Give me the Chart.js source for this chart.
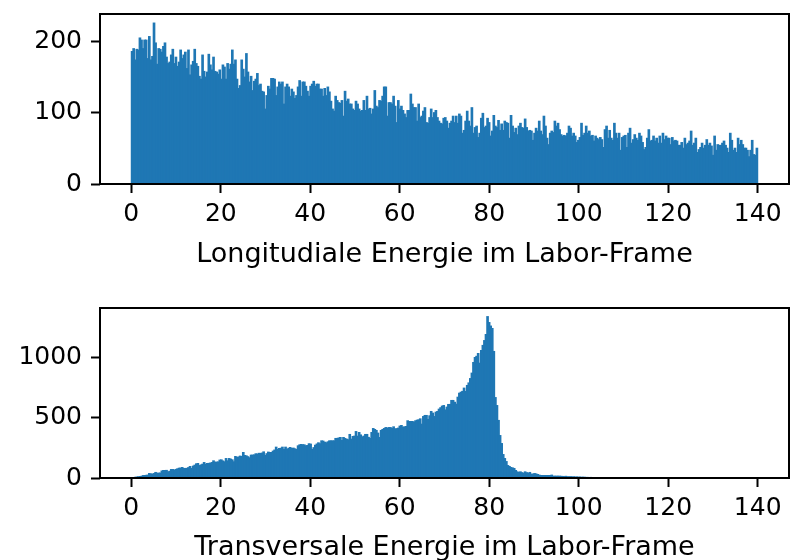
<!DOCTYPE html>
<html>
<head>
<meta charset="utf-8">
<script src="https://cdn.jsdelivr.net/npm/chart.js@4.4.0/dist/chart.umd.min.js"></script>
<style>
  body { margin: 0; background: #fff; overflow: hidden; }
  .wrap { position: absolute; left: 0; width: 790px; }
</style>
</head>
<body>
<div class="wrap" style="top:0;height:280px"><canvas id="longChart" width="790" height="280"></canvas></div>
<div class="wrap" style="top:280px;height:284px"><canvas id="transChart" width="790" height="284"></canvas></div>
<script>
// Histogram: 400 bins between binMin and binMax
var binMin = 0, binMax = 140;

// counts per bin, longitudinal energy
var longValues = [
  187,191,175,190,189,206,203,191,203,203,177,208,175,180,227,199,169,191,190,186,
  194,199,179,170,172,182,190,170,179,166,172,189,177,182,186,163,189,154,168,173,
  190,170,166,152,148,182,159,151,158,183,168,161,179,159,158,155,161,148,168,165,
  148,170,162,169,189,169,175,148,135,139,175,162,151,184,158,144,152,132,145,148,
  156,139,141,131,130,106,125,138,134,149,149,148,125,137,144,141,144,113,137,141,
  137,124,134,130,121,125,137,146,124,144,144,138,131,124,138,141,145,138,141,141,
  134,134,124,135,125,137,130,117,106,103,124,118,115,114,118,96,131,117,120,113,
  113,106,104,117,113,106,103,104,118,104,124,106,107,99,106,132,110,108,118,117,
  124,137,137,96,115,115,113,124,110,87,118,106,110,104,99,94,104,104,127,113,
  108,108,89,113,94,96,103,108,87,86,94,106,94,101,104,94,89,86,85,93,
  94,89,79,86,89,96,87,96,86,99,96,72,76,89,103,89,82,108,72,80,
  82,66,72,93,100,80,82,93,87,68,75,97,82,80,90,76,85,76,89,87,
  86,65,97,82,73,79,70,82,86,80,79,92,80,75,76,75,62,72,79,75,
  89,75,70,96,82,65,56,72,75,73,89,82,86,77,70,68,69,68,72,82,
  79,68,72,68,59,62,66,86,69,72,82,72,75,68,69,61,68,65,63,66,
  63,52,77,82,65,76,65,62,86,72,65,72,48,66,68,69,52,72,79,58,
  63,70,65,62,72,68,59,49,52,65,77,61,62,68,61,65,58,68,58,72,
  63,68,65,65,56,66,61,62,61,55,55,59,51,65,56,58,61,75,55,58,
  65,45,49,52,58,51,55,63,55,58,54,41,68,48,56,55,55,58,61,55,
  51,45,72,62,48,51,45,65,56,62,56,51,51,48,39,48,62,42,41,51
];

// counts per bin, transversal energy
var transValues = [
  5,6,10,12,14,16,18,24,25,26,28,41,38,36,41,50,44,44,45,62,
  66,66,67,55,60,74,74,69,75,80,85,86,91,83,83,84,90,99,83,102,
  110,121,124,107,112,118,132,118,124,125,127,132,146,135,135,137,152,154,145,138,
  165,146,165,160,154,138,182,174,178,185,182,215,190,187,180,171,193,193,195,204,
  201,208,207,210,220,190,205,218,215,215,226,235,259,240,248,250,259,240,259,242,
  250,256,248,251,245,240,270,278,281,279,278,270,273,287,284,240,255,275,285,295,
  287,311,309,300,295,303,311,311,311,311,331,331,335,339,314,339,331,325,320,364,
  325,347,350,388,350,380,360,344,350,364,364,340,331,380,413,405,397,375,339,397,
  405,413,421,416,421,421,413,427,410,412,416,433,438,424,427,430,477,471,471,471,
  466,477,482,485,493,449,512,521,521,488,518,554,540,512,548,554,573,585,598,603,
  567,590,612,612,645,645,630,614,672,705,713,720,747,719,769,790,826,871,959,1000,
  1010,1033,953,1058,1100,1140,1190,1338,1289,1260,1240,1050,669,603,480,355,289,198,165,140,
  107,99,91,87,83,66,55,50,55,48,44,55,48,44,50,36,36,41,38,33,
  28,25,25,25,25,25,25,25,28,19,19,19,19,19,18,17,16,18,15,14,
  15,13,14,12,13,11,12,10,11,10,9,9,8,9,7,8,7,6,7,6,
  5,6,5,5,4,5,4,4,3,4,3,3,3,2,3,2,2,3,2,1,
  2,2,1,1,2,1,1,1,0,1,1,1,0,1,0,1,0,0,1,0,
  0,1,0,0,0,1,0,0,0,0,1,0,0,0,0,0,0,1,0,0,
  0,0,0,0,0,0,1,0,0,0,0,0,0,0,0,0,0,1,0,0,
  0,0,0,0,0,0,0,0,0,0,0,0,0,0,0,0,0,0,0,1
];

var xTicks = [0, 20, 40, 60, 80, 100, 120, 140];
var longYTicks = [0, 100, 200];
var transYTicks = [0, 500, 1000];

var barColor = '#1f77b4';
var fontFamily = 'DejaVu Sans';

function toPoints(values) {
  var w = (binMax - binMin) / values.length;
  return values.map(function (v, i) { return { x: binMin + (i + 0.5) * w, y: v }; });
}

// matplotlib-style box around the plot area
var framePlugin = {
  id: 'frame',
  afterDraw: function (chart) {
    var a = chart.chartArea, ctx = chart.ctx;
    ctx.save();
    ctx.strokeStyle = '#000';
    ctx.lineWidth = 2;
    ctx.strokeRect(a.left, a.top, a.right - a.left, a.bottom - a.top);
    ctx.restore();
  }
};

function makeChart(id, values, yTicks, yMax, title, padTop, axisHeight, titlePad) {
  var ctx = document.getElementById(id).getContext('2d');
  return new Chart(ctx, {
    type: 'bar',
    data: {
      datasets: [{
        data: toPoints(values),
        backgroundColor: barColor,
        borderWidth: 0,
        barPercentage: 1.7,
        categoryPercentage: 1,
        grouped: false
      }]
    },
    options: {
      responsive: false,
      animation: false,
      devicePixelRatio: 1,
      layout: { padding: { top: padTop, right: 1, left: 0, bottom: 0 } },
      plugins: { legend: { display: false }, tooltip: { enabled: false } },
      scales: {
        x: {
          type: 'linear',
          min: -7,
          max: 147,
          offset: false,
          afterBuildTicks: function (s) { s.ticks = xTicks.map(function (v) { return { value: v }; }); },
          afterFit: function (s) { s.height = axisHeight; s.paddingLeft = 0; s.paddingRight = 0; },
          grid: { display: true, drawOnChartArea: false, drawTicks: true, tickLength: 9, tickWidth: 2, tickColor: '#000', offset: false },
          border: { display: false },
          ticks: { color: '#000', font: { family: fontFamily, size: 25 }, padding: 6, maxRotation: 0, autoSkip: false },
          title: { display: true, text: title, color: '#000', font: { family: fontFamily, size: 27 }, padding: { top: 0, bottom: titlePad } }
        },
        y: {
          min: 0,
          max: yMax,
          afterBuildTicks: function (s) { s.ticks = yTicks.map(function (v) { return { value: v }; }); },
          afterFit: function (s) { s.width = 100; s.paddingTop = 0; s.paddingBottom = 0; },
          grid: { display: true, drawOnChartArea: false, drawTicks: true, tickLength: 9, tickWidth: 2, tickColor: '#000' },
          border: { display: false },
          ticks: {
            color: '#000', font: { family: fontFamily, size: 25 }, padding: 9,
            callback: function (v) { return String(v); }
          }
        }
      }
    },
    plugins: [framePlugin]
  });
}

makeChart('longChart', longValues, longYTicks, 239, 'Longitudiale Energie im Labor-Frame', 14, 96, 9);
makeChart('transChart', transValues, transYTicks, 1405, 'Transversale Energie im Labor-Frame', 28, 86, 0);
</script>
</body>
</html>
